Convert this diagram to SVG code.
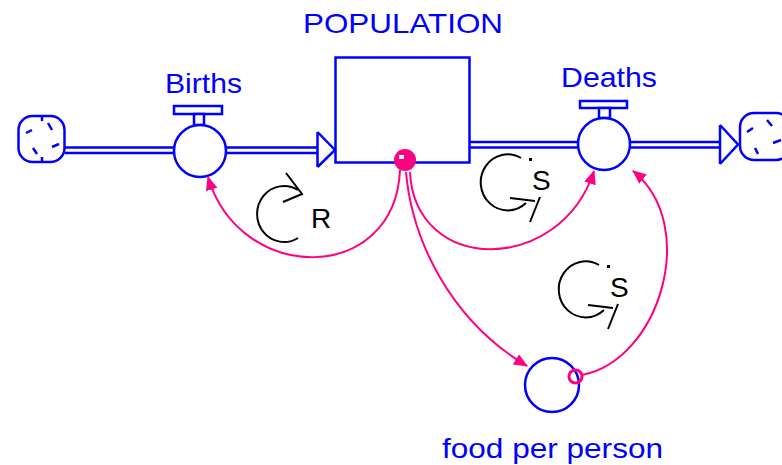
<svg xmlns="http://www.w3.org/2000/svg" width="782" height="465" viewBox="0 0 782 465">
<style>
.b{fill:none;stroke:#0000ff;stroke-width:2.5}
.bw{fill:#fff;stroke:#0000ff;stroke-width:2.5}
.lbl{font-family:"Liberation Sans",Arial,sans-serif;font-size:28px;fill:#0000ff}
.pk{fill:none;stroke:#ff0080;stroke-width:2}
.lp{fill:none;stroke:#000;stroke-width:2}
.lt{font-family:"Liberation Sans",Arial,sans-serif;font-size:28px;fill:#000}
</style>
<defs>
<marker id="ah" viewBox="0 0 14 12" refX="13" refY="6" markerWidth="14" markerHeight="12" markerUnits="userSpaceOnUse" orient="auto">
<path d="M0,0 L14,6 L0,12 z" fill="#ff0080"/>
</marker>
<g id="sloop">
<path class="lp" d="M 521 158 A 27 28 0 1 0 526 203"/>
<rect x="529" y="158" width="3" height="3" fill="#000"/>
<path class="lp" d="M 510 198 L 535 201 M 540 197 L 530 222"/>
<text class="lt" x="532" y="190">S</text>
</g>
</defs>
<rect width="782" height="465" fill="#fff"/>

<g id="pipes">
<path class="b" d="M65 147.5 H174 M65 153 H174 M226 147.5 H317.5 M226 153 H317.5"/>
<path class="b" d="M317.5 132 V167 M317.5 132 L335 150 L317.5 167"/>
<path class="b" d="M470 142 H578 M470 147.5 H578 M630 142 H720 M630 147.5 H720"/>
<path class="b" d="M720 125 V164 M720 125 L738 144.5 L720 164"/>
</g>

<g id="cloud-left">
<rect class="b" x="18.5" y="116" width="46" height="46" rx="14"/>
<path class="b" d="M26 133 L32 130 M48 123 L52 130 M52 147 L59 144 M33 148 L37 154 M42 116 V121 M42 157 V162"/>
</g>

<g id="cloud-right">
<rect class="b" x="740" y="113" width="50" height="47" rx="14"/>
<path class="b" d="M747 132 L753 128 M767 120 L772 126 M773 143 L781 140 M755 148 L758 154"/>
</g>

<g id="population">
<rect class="b" x="335.5" y="57.5" width="134" height="105"/>
<text class="lbl" x="303" y="33" textLength="200" lengthAdjust="spacingAndGlyphs">POPULATION</text>
</g>

<g id="births">
<rect class="bw" x="174" y="106" width="48" height="8"/>
<rect class="bw" x="194" y="114" width="10" height="11"/>
<circle class="bw" cx="200" cy="151" r="26"/>
<text class="lbl" x="165" y="93" textLength="77" lengthAdjust="spacingAndGlyphs">Births</text>
</g>

<g id="deaths">
<rect class="bw" x="580" y="101" width="47" height="7"/>
<rect class="bw" x="599" y="108" width="11" height="10"/>
<circle class="bw" cx="604" cy="144" r="26"/>
<text class="lbl" x="561" y="87" textLength="96" lengthAdjust="spacingAndGlyphs">Deaths</text>
</g>

<g id="food-per-person">
<circle class="bw" cx="552" cy="385" r="27"/>
<text class="lbl" x="442" y="458" textLength="221" lengthAdjust="spacingAndGlyphs">food per person</text>
</g>

<g id="connectors">
<path class="pk" d="M 400 170 C 395 285, 240 285, 208 177" marker-end="url(#ah)"/>
<path class="pk" d="M 410 172 C 415 275, 560 275, 594 171" marker-end="url(#ah)"/>
<path class="pk" d="M 406 172 C 412 240, 450 320, 527 366" marker-end="url(#ah)"/>
<path class="pk" d="M 582 375 C 660 360, 700 225, 633 171" marker-end="url(#ah)"/>
<circle cx="405" cy="160" r="11" fill="#ff0080"/>
<rect x="399" y="155" width="5" height="4" fill="#fff"/>
<circle cx="575.5" cy="376.5" r="6.5" fill="none" stroke="#ff0080" stroke-width="3"/>
</g>

<g id="loop-r">
<path class="lp" d="M 298 238 A 27 28 0 1 1 298 190"/>
<path class="lp" d="M 286 173 L 302 194 L 283 202"/>
<text class="lt" x="311" y="228">R</text>
</g>
<g id="loop-s1"><use href="#sloop"/></g>
<g id="loop-s2"><use href="#sloop" transform="translate(78,107)"/></g>
</svg>
